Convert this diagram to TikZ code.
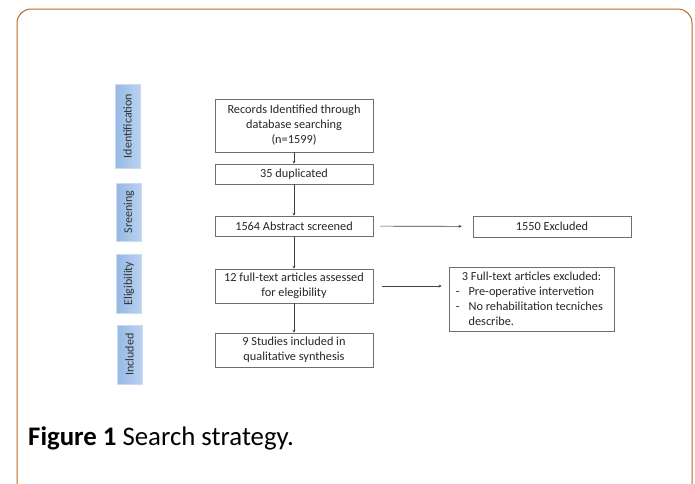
\documentclass[tikz,border=0pt]{standalone}
\usepackage{fontspec}
\setmainfont{Carlito}
\usetikzlibrary{positioning,arrows.meta,shadings}
\definecolor{framebrown}{RGB}{184,104,36}
\definecolor{stageblue}{RGB}{150,185,228}
\definecolor{stagelight}{RGB}{186,210,240}
\definecolor{boxgray}{RGB}{110,110,110}
\tikzset{
  >={Stealth[length=3pt,width=3pt]},
  stepbox/.style={draw=boxgray,line width=0.6pt,minimum width=158pt,
    inner sep=2pt,align=center,font=\fontsize{12.3}{15}\selectfont,text=black!85},
  stage/.style={rotate=90,draw=stagelight!80,line width=0.8pt,
    left color=stageblue,right color=stagelight,minimum height=25pt,
    inner sep=1pt,text=black!80,font=\fontsize{12}{14}\selectfont},
  flow/.style={->,line width=0.6pt,black!75},
}
\begin{document}
\begin{tikzpicture}[x=1pt,y=-1pt]
  \useasboundingbox (0,0) rectangle (695,483);
  \draw[framebrown,line width=1pt,rounded corners=14pt] (17,9) rectangle (692,500);
  % stage labels
  \node[stage,minimum width=84pt] (ident) at (127.5,126) {Identification};
  \node[stage,minimum width=58pt] (screen) at (129,212) {Sreening};
  \node[stage,minimum width=59pt] (elig) at (129,283.5) {Eligibility};
  \node[stage,minimum width=59pt] (incl) at (129.5,354.5) {Included};
  % main column
  \node[stepbox,minimum height=53pt] (records) at (294,125.5)
    {Records Identified through\\database searching\\(n=1599)};
  \node[stepbox,minimum height=20pt] (dup) at (294,174) {35 duplicated};
  \node[stepbox,minimum height=20pt] (abstr) at (294,226) {1564 Abstract screened};
  \node[stepbox,minimum height=34pt] (full) at (294,286)
    {12 full-text articles assessed\\for elegibility};
  \node[stepbox,minimum height=34pt] (studies) at (294,350)
    {9 Studies included in\\qualitative synthesis};
  % exclusions
  \node[stepbox,minimum height=21pt] (excl) at (552,226.5) {1550 Excluded};
  \node[stepbox,minimum width=165pt,minimum height=63pt] (fullexcl) at (531.5,299.5)
    {\begin{tabular}{@{}l@{\hspace{9pt}}l@{}}
      \multicolumn{2}{c}{3 Full-text articles excluded:}\\
      - & Pre-operative intervetion\\
      - & No rehabilitation tecniches\\
        & describe.
    \end{tabular}};
  \draw[flow] (records) -- (dup);
  \draw[flow] (dup) -- (abstr);
  \draw[flow] (abstr) -- (full);
  \draw[flow] (full) -- (studies);
  \draw[flow,shorten <=7pt,shorten >=11pt] (abstr) -- (excl);
  \draw[flow,shorten <=9pt,shorten >=7pt] (full.east) -- (full.east -| fullexcl.west);
  % caption
  \node[anchor=base west,inner sep=0pt,font=\fontsize{26.8}{30}\selectfont] (cap) at (28,445)
    {\textbf{Figure 1} Search strategy.};
\end{tikzpicture}
\end{document}
